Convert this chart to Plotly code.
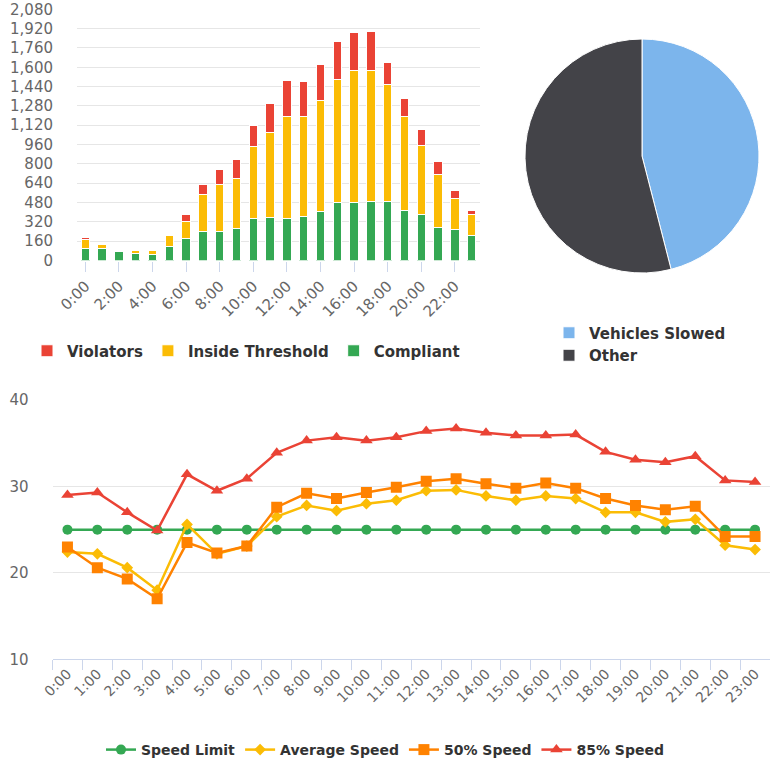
import plotly.graph_objects as go

hours = [f"{h}:00" for h in range(24)]

compliant = [100, 98, 75, 60, 52, 120, 180, 240, 240, 262, 345, 356, 345, 367, 406, 478,
             478, 489, 489, 417, 384, 276, 254, 204]
inside_threshold = [72, 35, 0, 25, 32, 85, 144, 304, 390, 420, 603, 708, 848, 826, 917, 1022,
                    1094, 1083, 967, 776, 572, 437, 260, 174]
violators = [20, 3, 0, 4, 5, 3, 55, 83, 121, 152, 171, 232, 301, 290, 301, 315,
             312, 323, 182, 150, 127, 110, 66, 36]

pie_labels = ["Vehicles Slowed", "Other"]
pie_values = [46, 54]

speed_limit = [25] * 24
average_speed = [22.4, 22.2, 20.6, 18.0, 25.6, 22.2, 23.1, 26.5, 27.8, 27.2, 28.0, 28.4,
                 29.5, 29.6, 28.9, 28.4, 28.9, 28.6, 27.0, 27.0, 25.9, 26.2, 23.2, 22.7]
speed_50 = [23.0, 20.6, 19.3, 17.0, 23.5, 22.3, 23.1, 27.6, 29.2, 28.6, 29.3, 29.9,
            30.6, 30.9, 30.3, 29.8, 30.4, 29.8, 28.6, 27.8, 27.3, 27.7, 24.2, 24.2]
speed_85 = [29.0, 29.3, 27.0, 24.9, 31.4, 29.5, 30.9, 33.9, 35.3, 35.7, 35.3, 35.7,
            36.4, 36.7, 36.2, 35.9, 35.9, 36.0, 34.0, 33.1, 32.8, 33.5, 30.7, 30.5]

RED = "#ea4335"
YELLOW = "#fbbc05"
GREEN = "#34a853"
ORANGE = "#ff8200"
FONT = "DejaVu Sans"
TICK_FONT = dict(family=FONT, size=15, color="#666666")
LEG_FONT = dict(family=FONT, size=15, color="#333333", weight="bold")

fig = go.Figure()

xs = list(range(24))
for name, vals, col in [("Compliant", compliant, GREEN),
                        ("Inside Threshold", inside_threshold, YELLOW),
                        ("Violators", violators, RED)]:
    fig.add_trace(go.Bar(x=xs, y=vals, name=name, marker=dict(color=col, line=dict(color="white", width=1)),
                         width=0.5, xaxis="x", yaxis="y", legend="legend"))

fig.add_trace(go.Pie(labels=pie_labels, values=pie_values, sort=False, direction="clockwise",
                     rotation=0, textinfo="none", hoverinfo="label+percent",
                     marker=dict(colors=["#7cb5ec", "#434348"], line=dict(color="white", width=1)),
                     domain=dict(x=[525 / 770, 759 / 770], y=[1 - 273 / 760, 1 - 39 / 760]),
                     legend="legend2"))

line_series = [("Speed Limit", speed_limit, GREEN, "circle", 10),
               ("Average Speed", average_speed, YELLOW, "diamond", 9),
               ("50% Speed", speed_50, ORANGE, "square", 11),
               ("85% Speed", speed_85, RED, "triangle-up", 11)]
for name, vals, col, sym, size in line_series:
    fig.add_trace(go.Scatter(x=hours, y=vals, name=name, mode="lines+markers",
                             line=dict(color=col, width=2.5),
                             marker=dict(symbol=sym, size=size, color=col),
                             xaxis="x2", yaxis="y2", legend="legend3"))

fig.update_layout(
    width=770, height=760,
    margin=dict(l=0, r=0, t=0, b=0, autoexpand=False),
    paper_bgcolor="white", plot_bgcolor="white",
    barmode="stack", bargap=0.5,
    font=dict(family=FONT),
    xaxis=dict(domain=[77 / 770, 480 / 770], range=[-0.5, 23.5], anchor="y", automargin=False,
               tickvals=xs[::2], ticktext=hours[::2], tickangle=-45,
               ticks="outside", ticklen=10, tickcolor="#ccd6eb",
               showgrid=False, zeroline=False, showline=False, tickfont=TICK_FONT),
    yaxis=dict(domain=[1 - 260.5 / 760, 1 - 9.3 / 760], range=[0, 2080], dtick=160, anchor="x",
               automargin=False,
               tickformat=",d", gridcolor="#e6e6e6", zeroline=False, showline=False,
               ticks="outside", ticklen=0, ticklabelstandoff=20, tickfont=TICK_FONT),
    xaxis2=dict(domain=[52.5 / 770, 1.0], type="category", range=[-0.5, 23.5], anchor="y2",
                automargin=False,
                tickson="boundaries", ticks="outside", ticklen=10, tickcolor="#ccd6eb",
                showline=True, linecolor="#ccd6eb", linewidth=1, tickangle=-45,
                showgrid=False, zeroline=False, tickfont=dict(family=FONT, size=14, color="#666666")),
    yaxis2=dict(domain=[1 - 659.3 / 760, 1 - 400 / 760], range=[10, 40], dtick=10, anchor="x2",
                automargin=False,
                gridcolor="#e6e6e6", zeroline=False, showline=False,
                ticks="outside", ticklen=0, ticklabelstandoff=20, tickfont=TICK_FONT),
    legend=dict(orientation="h", x=246 / 770, xanchor="center", y=1 - 351 / 760, yanchor="middle",
                traceorder="reversed", font=LEG_FONT, bgcolor="rgba(0,0,0,0)"),
    legend2=dict(orientation="v", x=549 / 770, xanchor="left", y=1 - 344 / 760, yanchor="middle",
                 font=LEG_FONT, bgcolor="rgba(0,0,0,0)", tracegroupgap=0),
    legend3=dict(orientation="h", x=0.5, xanchor="center", y=1 - 750 / 760, yanchor="middle",
                 font=dict(family=FONT, size=14, color="#333333", weight="bold"),
                 bgcolor="rgba(0,0,0,0)"),
)

fig.write_html("out.html", post_script="document.body.style.margin='0';",
               config={"displayModeBar": False})
